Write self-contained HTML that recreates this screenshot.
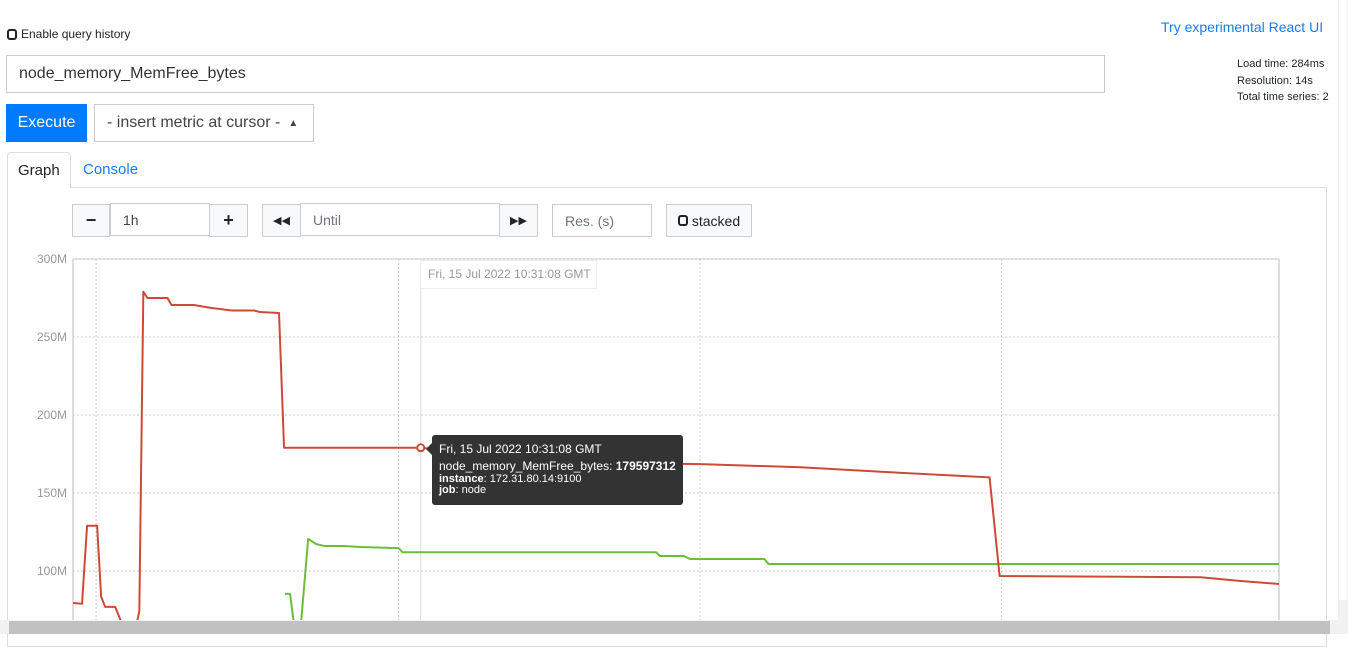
<!DOCTYPE html>
<html><head><meta charset="utf-8">
<style>
*{box-sizing:border-box}
body{margin:0;width:1348px;height:634px;overflow:hidden;background:#fff;font-family:"Liberation Sans",sans-serif;color:#212529;position:relative}
.abs{position:absolute}
.btn{position:absolute;border:1px solid #ccc;background:#f8f9fa;display:flex;align-items:center;justify-content:center;font-size:14px}
.inp{position:absolute;border:1px solid #ccc;background:#fff;font-size:14px;color:#6c757d;padding:0 12px;display:flex;align-items:center}
</style></head><body>
<div class="abs" style="left:7px;top:27px;font-size:12px;display:flex;align-items:center;gap:4px"><span style="display:inline-block;width:10px;height:11px;border:2px solid #222;border-radius:3px"></span>Enable query history</div>
<div class="abs" style="left:1161px;top:19px;font-size:14px;color:#1a7cf5">Try experimental React UI</div>
<div class="abs" style="left:1237px;top:56px;font-size:11px;line-height:16.5px">Load time: 284ms<br>Resolution: 14s<br>Total time series: 2</div>
<div class="inp" style="left:6px;top:55px;width:1099px;height:38px;color:#333;font-size:16px">node_memory_MemFree_bytes</div>
<div class="abs" style="left:6px;top:104px;width:81px;height:38px;background:#007bff;color:#fff;font-size:16px;display:flex;align-items:center;justify-content:center">Execute</div>
<div class="inp" style="left:94px;top:104px;width:220px;height:38px;color:#444;font-size:16px">- insert metric at cursor - <span style="margin-left:8px;font-size:10px">&#9650;&#xFE0E;</span></div>
<div class="abs" style="left:7px;top:152px;width:64px;height:36px;border:1px solid #ddd;border-bottom:none;border-radius:4px 4px 0 0;background:#fff;font-size:15px;padding:9px 0 0 10px;z-index:2">Graph</div>
<div class="abs" style="left:83px;top:161px;font-size:15px;color:#1a7cf5">Console</div>
<div class="abs" style="left:7px;top:187px;width:1320px;height:460px;border:1px solid #ddd"></div>
<div class="btn" style="left:72px;top:204px;width:38px;height:33px;font-weight:bold;font-size:18px">−</div>
<div class="inp" style="left:110px;top:203px;width:100px;height:33px;color:#444">1h</div>
<div class="btn" style="left:209px;top:204px;width:39px;height:33px;font-weight:bold;font-size:18px">+</div>
<div class="btn" style="left:262px;top:204px;width:39px;height:33px;font-size:11px">◀◀</div>
<div class="inp" style="left:300px;top:203px;width:200px;height:33px">Until</div>
<div class="btn" style="left:499px;top:204px;width:39px;height:33px;font-size:11px">▶▶</div>
<div class="inp" style="left:552px;top:204px;width:100px;height:33px">Res. (s)</div>
<div class="btn" style="left:666px;top:204px;width:86px;height:33px;gap:4px"><span style="display:inline-block;width:10px;height:11px;border:2px solid #222;border-radius:3px"></span>stacked</div>
<svg id="chart" class="abs" style="left:0;top:240px" width="1348" height="394"></svg>
<div class="abs" style="left:420px;top:260px;width:177px;height:29px;border:1px solid #eee;background:rgba(255,255,255,.85);font-size:12px;color:#999;padding:6px 0 0 7px">Fri, 15 Jul 2022 10:31:08 GMT</div>
<div class="abs" style="left:432px;top:435px;width:251px;height:70px;background:#333;border-radius:3px;color:#fff;font-size:12px;padding:7px 0 0 7px;line-height:15px">
<div>Fri, 15 Jul 2022 10:31:08 GMT</div>
<div style="margin-top:2px">node_memory_MemFree_bytes: <b>179597312</b></div>
<div style="font-size:11px;line-height:11px"><b>instance</b>: 172.31.80.14:9100</div>
<div style="font-size:11px;line-height:11px"><b>job</b>: node</div>
</div>
<div class="abs" style="left:426px;top:443px;width:0;height:0;border-top:6px solid transparent;border-bottom:6px solid transparent;border-right:6px solid #333"></div>
<div class="abs" style="left:0;top:620px;width:1348px;height:14px;background:#f1f1f1"><div style="position:absolute;left:9px;top:1px;width:1321px;height:13px;background:#c1c1c1"></div></div>
<div class="abs" style="left:1338px;top:0;width:10px;height:620px;background:#f1f1f1"><div style="position:absolute;left:1px;top:0;width:8px;height:600px;background:#fff"></div></div>
<script>
const yTicks=[100,150,200,250,300];
const tickLabels=["100M","150M","200M","250M","300M"];
const xGrid=[1.15,16.2,31.2,46.2];
const redT=[0,0.45,0.7,1.2,1.4,1.6,2.1,2.35,2.7,3.1,3.3,3.5,3.7,4.7,4.9,6.0,6.9,7.9,9.0,9.3,10.25,10.5,17.3,23.4,26.2,31.2,36.2,41.1,45.6,46.1,56.1,58.1,60];
const redV=[79.5,79,129,129,83.5,77,77,69,62,62,74.5,279,275,275,270.5,270.5,268.6,267,267,266,265.4,179,179,171.8,169.5,168.5,166.5,163,160,96.8,96,93.6,91.7];
const greenT=[10.55,10.8,11.05,11.3,11.7,12.1,12.5,13.5,14.3,16.2,16.4,29.0,29.2,30.4,30.7,34.4,34.6,60];
const greenV=[85.3,85.3,60,60,120.5,117.3,116,116,115.4,114.7,112,112,109.6,109.6,107.7,107.7,104.5,104.5];
const svg=document.getElementById('chart');const NS='http://www.w3.org/2000/svg';
const X0=73,X1=1279,OY=240;
const xs=t=>X0+(X1-X0)*t/60;
const ys=v=>259+(300-v)*1.56-OY;
function mk(tag,a){const e=document.createElementNS(NS,tag);for(const k in a)e.setAttribute(k,a[k]);svg.appendChild(e);return e;}
const frame=mk('rect',{x:X0,y:ys(300),width:X1-X0,height:400,fill:'none',stroke:'#bbb'});


yTicks.forEach((v,i)=>{
 const g=mk('line',{x1:X0,x2:X1,y1:ys(v),y2:ys(v),stroke:'#ccc','stroke-dasharray':'2,2'});
 
 
 const t=mk('text',{x:X0-6,y:ys(v)+4,'text-anchor':'end','font-size':12,fill:'#999','font-family':'Liberation Sans, sans-serif'});
 t.textContent=tickLabels[i];
 
 
});
xGrid.forEach(t=>{
 const g=mk('line',{x1:xs(t),x2:xs(t),y1:ys(300),y2:400,stroke:'#ccc','stroke-dasharray':'2,2'});
 
 
});
const hv=mk('line',{x1:xs(17.3),x2:xs(17.3),y1:ys(300),y2:400,stroke:'#ddd'});


function series(T,V,c,name){
 const p=mk('polyline',{points:T.map((t,i)=>xs(t)+','+ys(V[i])).join(' '),fill:'none',stroke:c,'stroke-width':2,'stroke-linejoin':'round'});
 
 
}
series(greenT,greenV,'#6cbd3c','series-green');
series(redT,redV,'#cc4b37','series-red');
const dot=mk('circle',{cx:xs(17.3),cy:ys(179),r:3.5,fill:'#fff',stroke:'#cc4b37','stroke-width':2});


</script>
</body></html>
